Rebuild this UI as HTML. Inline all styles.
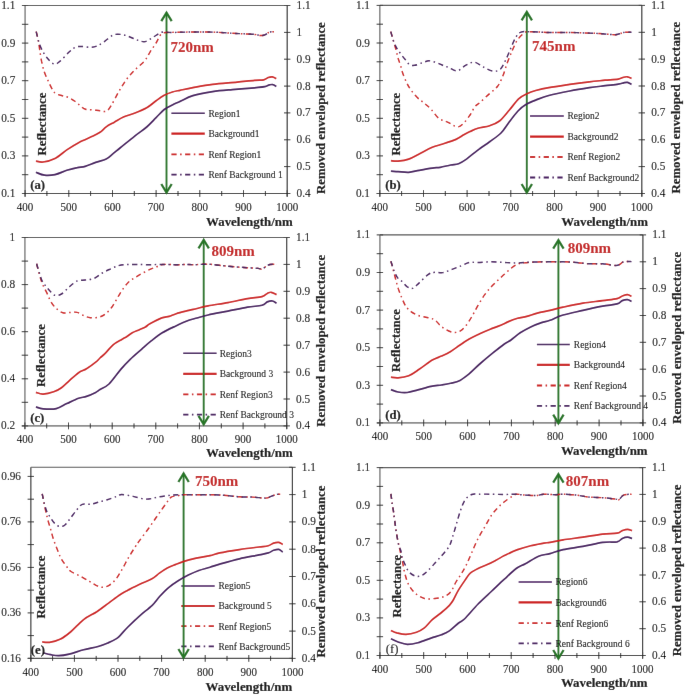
<!DOCTYPE html>
<html><head><meta charset="utf-8"><style>
body{margin:0;background:#fff;}
svg{display:block;filter:grayscale(0);}
text{font-family:"Liberation Serif",serif;fill:#111;stroke:#111;stroke-width:1px;}
.tl{font-size:113px;text-anchor:end;}
.tr{font-size:113px;}
.tx{font-size:110px;text-anchor:middle;}
.xl{font-size:129px;font-weight:bold;stroke-width:2px;text-anchor:end;}
.lg{font-size:95px;}
.nm{font-size:150px;font-weight:bold;fill:#c42424;stroke:#c42424;stroke-width:1px;}
.lab{font-size:127px;font-weight:bold;stroke-width:2px;}
.labr{font-size:127px;}
.refl{font-size:127px;font-weight:bold;stroke-width:2px;}
.refl2{font-size:128px;font-weight:bold;stroke-width:2px;}
</style></head>
<body><svg width="685" height="696" viewBox="0 0 685 696">
<defs><filter id="bl" filterUnits="userSpaceOnUse" x="-4" y="-4" width="693" height="704"><feConvolveMatrix order="3" kernelMatrix="0 1 0 1 20 1 0 1 0" edgeMode="duplicate" preserveAlpha="true"/></filter></defs>
<rect x="-10" y="-10" width="705" height="716" fill="#fff"/><g filter="url(#bl)"><rect x="-10" y="-10" width="705" height="716" fill="#fff"/>
<g id="pa">
<path d="M25.1,5.5H287.2" stroke="#555" stroke-width="1.1" fill="none"/>
<path d="M25.1,5.5V196.5" stroke="#8c8c8c" stroke-width="1.6" fill="none"/>
<path d="M22.1,193.5H287.2" stroke="#333" stroke-width="1.2" fill="none"/>
<path d="M287.2,5.5V196.5" stroke="#333" stroke-width="1.2" fill="none"/>
<path d="M21.9,193.5h6.4M21.9,174.7h6.4M21.9,155.9h6.4M21.9,137.1h6.4M21.9,118.3h6.4M21.9,99.5h6.4M21.9,80.7h6.4M21.9,61.9h6.4M21.9,43.1h6.4M21.9,24.3h6.4M21.9,5.5h6.4" stroke="#333" stroke-width="1" fill="none"/>
<text transform="translate(15.3,197.0) scale(0.1,0.113)" class="tl">0.1</text>
<text transform="translate(15.3,159.4) scale(0.1,0.113)" class="tl">0.3</text>
<text transform="translate(15.3,121.8) scale(0.1,0.113)" class="tl">0.5</text>
<text transform="translate(15.3,84.2) scale(0.1,0.113)" class="tl">0.7</text>
<text transform="translate(15.3,46.6) scale(0.1,0.113)" class="tl">0.9</text>
<text transform="translate(15.3,9.0) scale(0.1,0.113)" class="tl">1.1</text>
<text transform="translate(296.6,197.0) scale(0.1,0.113)" class="tr">0.4</text>
<text transform="translate(296.6,170.1) scale(0.1,0.113)" class="tr">0.5</text>
<text transform="translate(296.6,143.3) scale(0.1,0.113)" class="tr">0.6</text>
<text transform="translate(296.6,116.4) scale(0.1,0.113)" class="tr">0.7</text>
<text transform="translate(296.6,89.6) scale(0.1,0.113)" class="tr">0.8</text>
<text transform="translate(296.6,62.7) scale(0.1,0.113)" class="tr">0.9</text>
<text transform="translate(296.6,35.9) scale(0.1,0.113)" class="tr">1</text>
<text transform="translate(296.6,9.0) scale(0.1,0.113)" class="tr">1.1</text>
<path d="M284.0,193.5h6.4M284.0,166.6h6.4M284.0,139.8h6.4M284.0,112.9h6.4M284.0,86.1h6.4M284.0,59.2h6.4M284.0,32.4h6.4M284.0,5.5h6.4" stroke="#333" stroke-width="1" fill="none"/>
<path d="M25.1,190.1v6.8M46.9,191.0v5M68.8,190.1v6.8M90.6,191.0v5M112.5,190.1v6.8M134.3,191.0v5M156.1,190.1v6.8M178.0,191.0v5M199.8,190.1v6.8M221.7,191.0v5M243.5,190.1v6.8M265.4,191.0v5M287.2,190.1v6.8" stroke="#333" stroke-width="1" fill="none"/>
<text transform="translate(25.1,210.8) scale(0.1,0.113)" class="tx">400</text>
<text transform="translate(68.8,210.8) scale(0.1,0.113)" class="tx">500</text>
<text transform="translate(112.5,210.8) scale(0.1,0.113)" class="tx">600</text>
<text transform="translate(156.1,210.8) scale(0.1,0.113)" class="tx">700</text>
<text transform="translate(199.8,210.8) scale(0.1,0.113)" class="tx">800</text>
<text transform="translate(243.5,210.8) scale(0.1,0.113)" class="tx">900</text>
<text transform="translate(287.2,210.8) scale(0.1,0.113)" class="tx">1000</text>
<text transform="translate(292.7,225.5) scale(0.1,0.1)" class="xl">Wavelength/nm</text>
<path d="M171.4,113.2H204.8" stroke="#44145e" stroke-width="1.5"/>
<path d="M171.4,133.7H204.8" stroke="#cc1a1a" stroke-width="2.2"/>
<path d="M171.4,154.3H204.8" stroke="#cc1a1a" stroke-width="1.8" stroke-dasharray="5.2,3.5,1.5,3.5"/>
<path d="M171.4,174.7H204.8" stroke="#44145e" stroke-width="1.8" stroke-dasharray="5.2,3.5,1.5,3.5"/>
<path d="M166.5,12.7V192.5" stroke="#287628" stroke-width="1.9"/>
<path d="M161.3,21.2L166.5,12.7L171.7,21.2" stroke="#287628" stroke-width="2.3" fill="none"/>
<path d="M161.3,184.0L166.5,192.5L171.7,184.0" stroke="#287628" stroke-width="2.3" fill="none"/>
<path d="M36.2,31.6 C36.6,33.1 37.8,37.7 38.4,40.7 C39.0,43.7 39.2,46.3 39.7,49.8 C40.2,53.2 40.9,57.8 41.6,61.4 C42.4,65.0 43.1,68.5 44.2,71.7 C45.3,74.9 46.7,77.8 48.1,80.8 C49.5,83.8 51.3,87.8 52.6,89.9 C53.9,92.1 54.3,92.7 55.9,93.7 C57.5,94.7 60.1,95.1 62.3,95.7 C64.5,96.3 66.6,96.6 68.8,97.6 C71.0,98.6 73.3,100.1 75.3,101.5 C77.2,102.9 78.8,104.7 80.5,106.0 C82.2,107.3 83.6,108.7 85.6,109.3 C87.5,109.9 89.8,109.5 92.2,109.8 C94.6,110.0 97.7,110.6 100.1,110.8 C102.5,111.0 104.6,112.2 106.5,111.2 C108.4,110.2 109.6,108.0 111.6,104.8 C113.6,101.6 116.3,95.9 118.7,91.8 C121.1,87.7 123.3,83.9 125.9,80.3 C128.5,76.7 131.4,73.5 134.5,70.3 C137.6,67.1 142.0,64.0 144.6,60.9 C147.2,57.8 148.4,54.6 150.3,51.6 C152.2,48.6 154.2,46.0 156.1,43.0 C158.0,40.0 159.4,35.4 161.8,33.6 C164.2,31.9 166.4,32.8 170.5,32.5 C174.6,32.2 179.3,32.2 186.3,32.1 C193.3,32.0 205.1,31.9 212.6,32.1 C220.1,32.3 226.4,32.9 231.5,33.2 C236.6,33.5 239.2,33.6 243.0,33.8 C246.8,34.0 251.6,34.1 254.5,34.4 C257.4,34.7 258.5,35.4 260.2,35.5 C261.9,35.6 263.3,35.5 264.8,34.9 C266.3,34.3 267.9,32.6 269.4,32.1 C270.9,31.6 273.2,31.9 274.0,31.8" stroke="#cc1a1a" stroke-width="1.45" fill="none" stroke-dasharray="5.2,3.5,1.5,3.5"/>
<path d="M36.2,31.6 C36.6,33.1 37.5,37.8 38.4,40.7 C39.3,43.6 40.2,46.3 41.6,49.1 C43.0,51.9 44.8,55.0 46.8,57.5 C48.8,60.0 51.7,63.4 53.9,64.0 C56.1,64.7 57.3,63.4 59.8,61.4 C62.3,59.4 66.2,54.7 68.8,52.3 C71.4,49.9 73.1,48.2 75.3,47.2 C77.5,46.2 79.1,46.5 81.7,46.5 C84.3,46.5 88.2,47.5 90.8,47.4 C93.4,47.3 95.0,46.9 97.3,45.9 C99.6,44.9 101.8,43.4 104.4,41.6 C107.0,39.8 110.2,36.3 113.0,35.1 C115.8,33.9 118.3,34.2 120.9,34.4 C123.5,34.6 126.1,35.5 128.8,36.5 C131.6,37.5 134.7,39.2 137.4,40.1 C140.2,41.0 142.7,42.1 145.3,41.6 C147.9,41.1 150.4,38.8 153.2,37.2 C155.9,35.6 158.9,33.0 161.8,32.2 C164.7,31.4 166.4,32.5 170.5,32.5 C174.6,32.5 179.3,32.2 186.3,32.1 C193.3,32.0 205.1,31.9 212.6,32.1 C220.1,32.3 226.4,32.9 231.5,33.2 C236.6,33.5 239.2,33.6 243.0,33.8 C246.8,34.0 251.6,34.1 254.5,34.4 C257.4,34.7 258.5,35.4 260.2,35.5 C261.9,35.6 263.3,35.5 264.8,34.9 C266.3,34.3 267.9,32.6 269.4,32.1 C270.9,31.6 273.2,31.9 274.0,31.8" stroke="#44145e" stroke-width="1.45" fill="none" stroke-dasharray="5.2,3.5,1.5,3.5"/>
<path d="M35.9,161.1 C37.1,161.2 39.9,162.4 43.1,162.0 C46.3,161.6 51.0,160.5 55.0,158.5 C59.0,156.5 62.9,152.5 66.8,149.9 C70.7,147.3 74.2,145.0 78.6,142.7 C83.0,140.4 89.5,137.8 93.1,136.1 C96.7,134.4 97.8,133.8 100.0,132.3 C102.2,130.8 103.9,128.6 106.2,126.9 C108.5,125.2 111.1,124.0 114.0,122.4 C116.9,120.8 119.9,118.7 123.4,117.1 C126.9,115.5 131.1,114.5 135.0,113.0 C138.9,111.5 143.2,109.8 146.7,107.8 C150.2,105.8 153.2,102.9 156.1,100.8 C159.0,98.7 161.5,96.8 164.2,95.3 C166.9,93.8 169.8,92.8 172.4,92.0 C175.0,91.2 176.6,91.0 180.0,90.3 C183.4,89.6 187.5,88.7 192.9,87.7 C198.3,86.7 205.2,85.3 212.6,84.4 C220.0,83.5 230.2,82.8 237.2,82.1 C244.2,81.4 250.1,80.7 254.5,80.3 C258.9,79.9 261.4,80.3 263.7,79.8 C266.0,79.3 266.9,78.0 268.3,77.5 C269.7,77.0 271.0,76.7 272.3,76.9 C273.6,77.1 275.6,78.3 276.3,78.6" stroke="#cc1a1a" stroke-width="1.7" fill="none" stroke-linejoin="round"/>
<path d="M35.9,172.3 C37.3,172.8 41.3,174.8 44.5,175.2 C47.7,175.6 51.3,175.4 55.0,174.6 C58.7,173.8 63.1,171.5 66.8,170.3 C70.5,169.2 74.2,168.3 77.3,167.7 C80.4,167.0 82.1,167.3 85.2,166.4 C88.3,165.5 92.2,163.6 95.7,162.4 C99.2,161.2 103.4,160.5 106.2,159.1 C109.0,157.7 110.5,155.8 112.8,153.9 C115.1,152.1 116.3,151.0 120.0,148.0 C123.7,145.0 130.6,139.3 135.0,135.8 C139.4,132.3 143.2,130.0 146.7,127.0 C150.2,124.0 153.2,120.6 156.1,117.7 C159.0,114.8 161.5,111.6 164.2,109.5 C166.9,107.4 169.8,106.2 172.4,104.9 C175.0,103.6 176.6,103.0 180.0,101.4 C183.4,99.9 187.5,97.2 192.9,95.6 C198.3,94.0 206.0,92.6 212.6,91.6 C219.2,90.6 225.3,90.2 232.3,89.6 C239.3,89.0 249.1,88.3 254.5,87.8 C259.9,87.3 262.3,87.2 264.8,86.7 C267.3,86.2 268.0,85.2 269.4,84.9 C270.8,84.6 271.8,84.3 272.9,84.6 C274.0,84.8 275.7,86.1 276.3,86.4" stroke="#44145e" stroke-width="1.7" fill="none" stroke-linejoin="round"/>
<text transform="translate(208.4,116.6) scale(0.1,0.11)" class="lg">Region1</text>
<text transform="translate(208.4,137.1) scale(0.1,0.11)" class="lg">Background1</text>
<text transform="translate(208.4,157.7) scale(0.1,0.11)" class="lg">Renf Region1</text>
<text transform="translate(208.4,178.1) scale(0.1,0.11)" class="lg">Renf Background 1</text>
<text transform="translate(170.4,51.8) scale(0.1,0.1)" class="nm">720nm</text>
<text transform="translate(30.2,189.2) scale(0.1,0.1)" class="lab">(a)</text>
<text transform="translate(45.5,155.4) rotate(-90) scale(0.1,0.1)" class="refl">Reflectance</text>
<text transform="translate(325.1,194.0) rotate(-90) scale(0.1,0.1)" class="refl2">Removed enveloped reflectance</text>
</g>
<g id="pb">
<path d="M379.8,5.4H641.8" stroke="#555" stroke-width="1.1" fill="none"/>
<path d="M379.8,5.4V196.5" stroke="#8c8c8c" stroke-width="1.6" fill="none"/>
<path d="M376.8,193.5H641.8" stroke="#333" stroke-width="1.2" fill="none"/>
<path d="M641.8,5.4V196.5" stroke="#333" stroke-width="1.2" fill="none"/>
<path d="M376.6,193.5h6.4M376.6,174.7h6.4M376.6,155.9h6.4M376.6,137.1h6.4M376.6,118.3h6.4M376.6,99.5h6.4M376.6,80.6h6.4M376.6,61.8h6.4M376.6,43.0h6.4M376.6,24.2h6.4M376.6,5.4h6.4" stroke="#333" stroke-width="1" fill="none"/>
<text transform="translate(370.0,197.0) scale(0.1,0.113)" class="tl">0.1</text>
<text transform="translate(370.0,159.4) scale(0.1,0.113)" class="tl">0.3</text>
<text transform="translate(370.0,121.8) scale(0.1,0.113)" class="tl">0.5</text>
<text transform="translate(370.0,84.1) scale(0.1,0.113)" class="tl">0.7</text>
<text transform="translate(370.0,46.5) scale(0.1,0.113)" class="tl">0.9</text>
<text transform="translate(370.0,8.9) scale(0.1,0.113)" class="tl">1.1</text>
<text transform="translate(651.2,197.0) scale(0.1,0.113)" class="tr">0.4</text>
<text transform="translate(651.2,170.1) scale(0.1,0.113)" class="tr">0.5</text>
<text transform="translate(651.2,143.3) scale(0.1,0.113)" class="tr">0.6</text>
<text transform="translate(651.2,116.4) scale(0.1,0.113)" class="tr">0.7</text>
<text transform="translate(651.2,89.5) scale(0.1,0.113)" class="tr">0.8</text>
<text transform="translate(651.2,62.6) scale(0.1,0.113)" class="tr">0.9</text>
<text transform="translate(651.2,35.8) scale(0.1,0.113)" class="tr">1</text>
<text transform="translate(651.2,8.9) scale(0.1,0.113)" class="tr">1.1</text>
<path d="M638.6,193.5h6.4M638.6,166.6h6.4M638.6,139.8h6.4M638.6,112.9h6.4M638.6,86.0h6.4M638.6,59.1h6.4M638.6,32.3h6.4M638.6,5.4h6.4" stroke="#333" stroke-width="1" fill="none"/>
<path d="M379.8,190.1v6.8M401.6,191.0v5M423.5,190.1v6.8M445.3,191.0v5M467.1,190.1v6.8M489.0,191.0v5M510.8,190.1v6.8M532.6,191.0v5M554.5,190.1v6.8M576.3,191.0v5M598.1,190.1v6.8M620.0,191.0v5M641.8,190.1v6.8" stroke="#333" stroke-width="1" fill="none"/>
<text transform="translate(379.8,210.8) scale(0.1,0.113)" class="tx">400</text>
<text transform="translate(423.5,210.8) scale(0.1,0.113)" class="tx">500</text>
<text transform="translate(467.1,210.8) scale(0.1,0.113)" class="tx">600</text>
<text transform="translate(510.8,210.8) scale(0.1,0.113)" class="tx">700</text>
<text transform="translate(554.5,210.8) scale(0.1,0.113)" class="tx">800</text>
<text transform="translate(598.1,210.8) scale(0.1,0.113)" class="tx">900</text>
<text transform="translate(641.8,210.8) scale(0.1,0.113)" class="tx">1000</text>
<text transform="translate(648.0,225.5) scale(0.1,0.1)" class="xl">Wavelength/nm</text>
<path d="M530.0,116.0H563.8" stroke="#44145e" stroke-width="1.5"/>
<path d="M530.0,136.6H563.8" stroke="#cc1a1a" stroke-width="2.2"/>
<path d="M530.0,157.0H563.8" stroke="#cc1a1a" stroke-width="1.8" stroke-dasharray="5.2,3.5,1.5,3.5"/>
<path d="M530.0,177.5H563.8" stroke="#44145e" stroke-width="1.8" stroke-dasharray="5.2,3.5,1.5,3.5"/>
<path d="M526.8,11.9V192.5" stroke="#287628" stroke-width="1.9"/>
<path d="M521.6,20.4L526.8,11.9L532.0,20.4" stroke="#287628" stroke-width="2.3" fill="none"/>
<path d="M521.6,184.0L526.8,192.5L532.0,184.0" stroke="#287628" stroke-width="2.3" fill="none"/>
<path d="M390.8,31.6 C391.2,33.1 392.5,37.7 393.4,40.7 C394.3,43.7 395.2,47.0 396.0,49.8 C396.8,52.6 397.1,54.9 397.9,57.5 C398.6,60.1 399.6,62.5 400.5,65.3 C401.4,68.1 402.0,71.3 403.1,74.3 C404.2,77.3 405.7,80.8 407.0,83.4 C408.3,86.0 409.2,87.5 410.9,89.9 C412.6,92.3 415.1,95.4 417.3,97.6 C419.5,99.8 421.5,100.9 423.8,102.8 C426.1,104.7 428.5,106.6 431.0,109.2 C433.5,111.8 436.0,116.2 438.9,118.4 C441.8,120.6 445.0,120.9 448.1,122.3 C451.2,123.7 454.7,126.8 457.3,126.9 C459.9,127.0 461.6,125.1 463.8,123.0 C466.0,120.9 468.5,117.2 470.4,114.5 C472.3,111.8 473.3,108.7 475.0,106.6 C476.7,104.5 478.1,104.2 480.5,102.0 C482.9,99.8 486.8,96.1 489.7,93.5 C492.6,90.9 495.4,89.2 497.6,86.3 C499.8,83.3 501.3,79.7 502.9,75.8 C504.5,71.9 505.6,67.4 507.2,63.1 C508.8,58.8 510.7,54.1 512.4,50.2 C514.1,46.3 515.6,42.7 517.6,39.8 C519.6,36.9 522.4,34.2 524.5,32.9 C526.6,31.5 525.8,31.8 530.0,31.7 C534.2,31.6 543.4,32.4 550.0,32.5 C556.6,32.6 563.1,32.4 569.7,32.5 C576.3,32.6 583.9,32.9 589.4,33.1 C594.9,33.3 598.4,33.5 602.6,33.8 C606.8,34.1 611.6,34.7 614.4,34.7 C617.2,34.7 618.1,34.2 619.6,33.8 C621.1,33.4 621.6,32.8 623.6,32.5 C625.6,32.2 630.2,32.2 631.5,32.2" stroke="#cc1a1a" stroke-width="1.45" fill="none" stroke-dasharray="5.2,3.5,1.5,3.5"/>
<path d="M390.8,31.6 C391.2,33.1 392.4,38.0 393.4,40.7 C394.4,43.4 395.4,45.6 396.6,47.8 C397.8,49.9 399.0,51.5 400.5,53.6 C402.0,55.7 404.2,58.3 405.7,60.1 C407.2,61.9 408.1,63.7 409.6,64.6 C411.1,65.5 412.7,65.6 414.8,65.3 C416.9,65.0 420.1,63.5 422.5,62.7 C424.9,62.0 426.6,60.8 429.0,60.8 C431.4,60.8 434.3,61.9 436.7,62.7 C439.1,63.5 441.2,64.7 443.2,65.5 C445.2,66.3 446.3,66.5 448.6,67.4 C450.9,68.3 454.3,71.3 457.2,70.9 C460.1,70.5 463.0,66.7 465.9,65.2 C468.8,63.8 471.6,61.9 474.5,62.2 C477.4,62.5 480.1,65.4 483.1,66.9 C486.1,68.4 489.7,70.6 492.5,71.0 C495.3,71.4 497.8,71.2 500.0,69.5 C502.2,67.8 503.7,64.0 505.5,60.5 C507.3,57.0 509.0,52.3 510.7,48.4 C512.4,44.5 514.2,39.9 515.9,37.2 C517.6,34.5 518.6,33.0 521.0,32.1 C523.4,31.2 525.2,31.6 530.0,31.7 C534.8,31.8 543.4,32.4 550.0,32.5 C556.6,32.6 563.1,32.4 569.7,32.5 C576.3,32.6 583.9,32.9 589.4,33.1 C594.9,33.3 598.4,33.5 602.6,33.8 C606.8,34.1 611.6,34.7 614.4,34.7 C617.2,34.7 618.1,34.2 619.6,33.8 C621.1,33.4 621.6,32.8 623.6,32.5 C625.6,32.2 630.2,32.2 631.5,32.2" stroke="#44145e" stroke-width="1.45" fill="none" stroke-dasharray="5.2,3.5,1.5,3.5"/>
<path d="M390.9,160.7 C392.1,160.8 395.1,161.4 398.1,161.1 C401.1,160.8 405.2,160.3 408.7,159.1 C412.2,157.9 415.3,155.9 419.2,153.9 C423.1,151.9 428.4,149.0 432.3,147.3 C436.2,145.7 438.9,145.3 442.8,144.0 C446.8,142.7 452.5,140.9 456.0,139.4 C459.5,137.9 461.5,136.1 463.8,134.8 C466.1,133.5 467.6,132.7 470.0,131.6 C472.4,130.5 474.6,129.3 477.9,128.3 C481.2,127.3 486.1,126.9 489.7,125.7 C493.3,124.5 496.2,123.6 499.5,121.0 C502.8,118.4 506.2,113.7 509.4,110.0 C512.6,106.3 515.8,101.5 518.6,98.8 C521.5,96.1 523.6,95.3 526.5,93.9 C529.4,92.5 532.0,91.5 535.7,90.5 C539.4,89.5 543.1,88.6 548.8,87.6 C554.5,86.6 562.9,85.4 569.7,84.4 C576.5,83.4 583.5,82.5 589.4,81.8 C595.3,81.1 600.4,80.7 605.2,80.2 C610.0,79.8 615.2,79.6 618.3,79.1 C621.4,78.6 622.1,77.6 623.6,77.2 C625.1,76.8 626.2,76.6 627.5,76.8 C628.8,77.0 630.8,78.2 631.5,78.5" stroke="#cc1a1a" stroke-width="1.7" fill="none" stroke-linejoin="round"/>
<path d="M390.9,171.2 C392.1,171.3 395.1,171.4 398.1,171.6 C401.1,171.8 405.2,172.5 408.7,172.3 C412.2,172.1 415.3,171.0 419.2,170.3 C423.1,169.6 428.8,168.6 432.3,168.1 C435.8,167.6 437.1,167.8 440.2,167.3 C443.3,166.8 447.6,165.6 450.7,165.0 C453.8,164.4 456.0,164.7 458.6,163.7 C461.2,162.7 463.8,161.0 466.5,159.1 C469.2,157.2 472.8,154.1 475.0,152.3 C477.2,150.5 477.5,150.3 480.0,148.5 C482.5,146.7 486.5,144.1 490.0,141.5 C493.5,138.9 497.8,136.2 501.0,133.0 C504.2,129.8 506.4,125.7 509.2,122.0 C512.0,118.3 515.3,113.9 518.0,111.0 C520.7,108.1 522.5,106.5 525.5,104.7 C528.5,102.9 531.8,101.6 535.7,100.1 C539.6,98.6 543.1,97.0 548.8,95.5 C554.5,94.0 562.9,92.3 569.7,91.0 C576.5,89.7 583.5,88.6 589.4,87.7 C595.3,86.8 600.4,86.3 605.2,85.7 C610.0,85.1 615.2,84.6 618.3,84.1 C621.4,83.6 622.1,83.1 623.6,82.8 C625.1,82.5 626.2,82.1 627.5,82.4 C628.8,82.7 630.8,84.1 631.5,84.4" stroke="#44145e" stroke-width="1.7" fill="none" stroke-linejoin="round"/>
<text transform="translate(567.4,119.4) scale(0.1,0.11)" class="lg">Region2</text>
<text transform="translate(567.4,140.0) scale(0.1,0.11)" class="lg">Background2</text>
<text transform="translate(567.4,160.4) scale(0.1,0.11)" class="lg">Renf Region2</text>
<text transform="translate(567.4,180.9) scale(0.1,0.11)" class="lg">Renf Background2</text>
<text transform="translate(532.1,51.1) scale(0.1,0.1)" class="nm">745nm</text>
<text transform="translate(385.2,189.0) scale(0.1,0.1)" class="lab">(b)</text>
<text transform="translate(399.8,155.5) rotate(-90) scale(0.1,0.1)" class="refl">Reflectance</text>
<text transform="translate(680.4,193.5) rotate(-90) scale(0.1,0.1)" class="refl2">Removed enveloped reflectance</text>
</g>
<g id="pc">
<path d="M24.9,237.5H286.7" stroke="#555" stroke-width="1.1" fill="none"/>
<path d="M24.9,237.5V428.9" stroke="#8c8c8c" stroke-width="1.6" fill="none"/>
<path d="M21.9,425.9H286.7" stroke="#8c8c8c" stroke-width="1.8" fill="none"/>
<path d="M286.7,237.5V428.9" stroke="#333" stroke-width="1.2" fill="none"/>
<path d="M21.7,425.9h6.4M21.7,402.3h6.4M21.7,378.8h6.4M21.7,355.2h6.4M21.7,331.7h6.4M21.7,308.1h6.4M21.7,284.6h6.4M21.7,261.1h6.4M21.7,237.5h6.4" stroke="#333" stroke-width="1" fill="none"/>
<text transform="translate(15.1,429.4) scale(0.1,0.113)" class="tl">0.2</text>
<text transform="translate(15.1,382.3) scale(0.1,0.113)" class="tl">0.4</text>
<text transform="translate(15.1,335.2) scale(0.1,0.113)" class="tl">0.6</text>
<text transform="translate(15.1,288.1) scale(0.1,0.113)" class="tl">0.8</text>
<text transform="translate(15.1,241.0) scale(0.1,0.113)" class="tl">1</text>
<text transform="translate(296.1,429.4) scale(0.1,0.113)" class="tr">0.4</text>
<text transform="translate(296.1,402.5) scale(0.1,0.113)" class="tr">0.5</text>
<text transform="translate(296.1,375.6) scale(0.1,0.113)" class="tr">0.6</text>
<text transform="translate(296.1,348.7) scale(0.1,0.113)" class="tr">0.7</text>
<text transform="translate(296.1,321.7) scale(0.1,0.113)" class="tr">0.8</text>
<text transform="translate(296.1,294.8) scale(0.1,0.113)" class="tr">0.9</text>
<text transform="translate(296.1,267.9) scale(0.1,0.113)" class="tr">1</text>
<text transform="translate(296.1,241.0) scale(0.1,0.113)" class="tr">1.1</text>
<path d="M283.5,425.9h6.4M283.5,399.0h6.4M283.5,372.1h6.4M283.5,345.2h6.4M283.5,318.2h6.4M283.5,291.3h6.4M283.5,264.4h6.4M283.5,237.5h6.4" stroke="#333" stroke-width="1" fill="none"/>
<path d="M24.9,422.5v6.8M46.7,423.4v5M68.5,422.5v6.8M90.3,423.4v5M112.2,422.5v6.8M134.0,423.4v5M155.8,422.5v6.8M177.6,423.4v5M199.4,422.5v6.8M221.3,423.4v5M243.1,422.5v6.8M264.9,423.4v5M286.7,422.5v6.8" stroke="#333" stroke-width="1" fill="none"/>
<text transform="translate(24.9,443.2) scale(0.1,0.113)" class="tx">400</text>
<text transform="translate(68.5,443.2) scale(0.1,0.113)" class="tx">500</text>
<text transform="translate(112.2,443.2) scale(0.1,0.113)" class="tx">600</text>
<text transform="translate(155.8,443.2) scale(0.1,0.113)" class="tx">700</text>
<text transform="translate(199.4,443.2) scale(0.1,0.113)" class="tx">800</text>
<text transform="translate(243.1,443.2) scale(0.1,0.113)" class="tx">900</text>
<text transform="translate(286.7,443.2) scale(0.1,0.113)" class="tx">1000</text>
<text transform="translate(292.7,457.4) scale(0.1,0.1)" class="xl">Wavelength/nm</text>
<path d="M183.2,353.2H216.6" stroke="#44145e" stroke-width="1.5"/>
<path d="M183.2,373.9H216.6" stroke="#cc1a1a" stroke-width="2.2"/>
<path d="M183.2,394.3H216.6" stroke="#cc1a1a" stroke-width="1.8" stroke-dasharray="5.2,3.5,1.5,3.5"/>
<path d="M183.2,414.7H216.6" stroke="#44145e" stroke-width="1.8" stroke-dasharray="5.2,3.5,1.5,3.5"/>
<path d="M203.7,239.9V424.3" stroke="#287628" stroke-width="1.9"/>
<path d="M198.5,248.4L203.7,239.9L208.9,248.4" stroke="#287628" stroke-width="2.3" fill="none"/>
<path d="M198.5,415.8L203.7,424.3L208.9,415.8" stroke="#287628" stroke-width="2.3" fill="none"/>
<path d="M36.6,263.8 C37.2,266.2 39.4,274.7 40.5,278.3 C41.6,281.9 42.0,283.0 43.1,285.5 C44.2,288.0 45.8,290.7 47.1,293.4 C48.4,296.1 49.5,299.4 51.0,301.9 C52.5,304.4 54.3,306.7 56.3,308.5 C58.3,310.3 60.5,312.2 62.9,312.8 C65.3,313.4 68.3,312.5 70.7,312.4 C73.1,312.3 75.1,311.8 77.3,312.4 C79.5,312.9 81.7,314.8 83.9,315.7 C86.1,316.6 88.0,317.4 90.4,317.7 C92.8,318.0 95.9,317.9 98.3,317.3 C100.7,316.8 102.7,316.0 104.9,314.4 C107.1,312.8 109.5,310.3 111.4,307.8 C113.4,305.3 114.9,302.2 116.6,299.3 C118.3,296.4 119.8,293.6 121.8,290.7 C123.8,287.8 126.2,284.4 128.4,282.2 C130.6,280.0 132.8,279.0 135.0,277.6 C137.2,276.2 139.1,275.0 141.5,273.7 C143.9,272.4 147.0,270.8 149.4,269.7 C151.8,268.6 153.8,268.0 156.0,267.1 C158.2,266.2 159.3,264.9 162.6,264.5 C165.9,264.1 171.3,264.7 175.7,264.7 C180.1,264.7 185.6,264.5 188.8,264.5 C192.0,264.5 191.8,264.8 195.0,264.7 C198.2,264.6 203.7,264.1 208.1,264.2 C212.5,264.3 216.9,265.1 221.3,265.5 C225.7,265.9 230.0,266.4 234.4,266.8 C238.8,267.2 243.6,267.4 247.6,267.7 C251.6,268.0 255.7,268.2 258.1,268.4 C260.5,268.6 260.7,269.4 262.0,269.1 C263.3,268.8 264.7,267.2 266.0,266.4 C267.3,265.6 268.1,264.9 269.9,264.5 C271.6,264.1 275.4,264.2 276.5,264.2" stroke="#cc1a1a" stroke-width="1.45" fill="none" stroke-dasharray="5.2,3.5,1.5,3.5"/>
<path d="M36.6,263.8 C37.0,265.2 38.3,269.6 39.2,272.3 C40.1,275.0 40.7,277.9 41.8,280.2 C42.9,282.5 44.4,284.2 45.8,286.1 C47.2,288.0 48.9,289.9 50.4,291.4 C51.9,292.9 53.1,294.9 55.0,295.3 C56.9,295.7 59.1,295.4 61.5,294.0 C63.9,292.6 66.8,289.0 69.4,286.8 C72.0,284.6 74.7,282.0 77.3,280.9 C79.9,279.8 82.3,280.4 85.2,280.0 C88.1,279.6 91.6,279.5 94.4,278.3 C97.2,277.1 99.7,274.5 102.3,273.0 C104.9,271.5 107.6,270.3 110.2,269.1 C112.8,267.9 115.3,266.6 117.9,265.8 C120.5,265.0 122.7,264.7 125.8,264.5 C128.9,264.3 132.4,264.5 136.3,264.5 C140.2,264.5 145.0,264.7 149.4,264.7 C153.8,264.7 158.2,264.5 162.6,264.5 C167.0,264.5 171.3,264.7 175.7,264.7 C180.1,264.7 185.6,264.5 188.8,264.5 C192.0,264.5 191.8,264.8 195.0,264.7 C198.2,264.6 203.7,264.1 208.1,264.2 C212.5,264.3 216.9,265.1 221.3,265.5 C225.7,265.9 230.0,266.4 234.4,266.8 C238.8,267.2 243.6,267.4 247.6,267.7 C251.6,268.0 255.7,268.2 258.1,268.4 C260.5,268.6 260.7,269.4 262.0,269.1 C263.3,268.8 264.7,267.2 266.0,266.4 C267.3,265.6 268.1,264.9 269.9,264.5 C271.6,264.1 275.4,264.2 276.5,264.2" stroke="#44145e" stroke-width="1.45" fill="none" stroke-dasharray="5.2,3.5,1.5,3.5"/>
<path d="M35.9,392.4 C37.1,392.7 40.1,394.2 43.1,394.1 C46.1,394.0 50.6,392.9 53.7,391.8 C56.8,390.8 58.9,389.7 61.5,387.8 C64.1,385.9 66.6,383.1 69.4,380.6 C72.2,378.1 75.8,374.7 78.6,372.7 C81.4,370.7 83.7,370.6 86.5,368.8 C89.3,367.1 93.5,364.0 95.7,362.2 C98.0,360.4 98.5,359.4 100.0,358.0 C101.5,356.6 102.7,355.9 104.9,353.7 C107.1,351.5 110.3,347.2 113.1,344.8 C115.9,342.4 119.6,340.7 121.8,339.4 C124.0,338.1 124.5,338.0 126.3,336.9 C128.1,335.8 130.1,334.0 132.3,332.8 C134.5,331.6 137.2,330.7 139.4,329.7 C141.6,328.7 143.8,327.9 145.5,326.9 C147.2,325.9 147.2,325.3 149.9,323.8 C152.6,322.3 158.6,319.1 161.8,317.9 C165.0,316.7 166.7,317.1 169.1,316.4 C171.5,315.7 172.9,314.7 176.2,313.7 C179.5,312.7 185.3,311.3 188.8,310.4 C192.3,309.5 193.8,309.3 197.0,308.5 C200.2,307.7 202.9,306.8 208.1,305.8 C213.2,304.8 221.3,303.8 227.9,302.6 C234.5,301.4 241.9,299.6 247.6,298.6 C253.3,297.6 258.7,297.5 262.0,296.6 C265.3,295.7 265.8,294.1 267.3,293.4 C268.8,292.7 269.7,292.1 271.2,292.3 C272.7,292.5 275.6,294.3 276.5,294.7" stroke="#cc1a1a" stroke-width="1.7" fill="none" stroke-linejoin="round"/>
<path d="M35.9,406.9 C37.1,407.2 39.7,408.5 43.1,408.8 C46.5,409.1 52.3,409.5 56.3,408.6 C60.2,407.7 63.1,405.3 66.8,403.6 C70.5,401.9 75.3,399.5 78.6,398.3 C81.9,397.1 83.7,397.4 86.5,396.4 C89.3,395.4 93.5,393.5 95.7,392.4 C98.0,391.2 97.8,390.9 100.0,389.5 C102.2,388.1 105.5,387.4 109.0,384.0 C112.5,380.6 117.5,373.2 121.0,369.1 C124.5,365.0 126.7,362.7 130.2,359.3 C133.7,355.9 138.5,351.9 142.0,348.8 C145.5,345.7 147.9,343.5 151.2,340.9 C154.5,338.3 157.9,335.4 161.8,333.0 C165.8,330.6 170.4,328.5 174.9,326.4 C179.4,324.3 185.1,321.7 188.8,320.3 C192.5,318.9 193.8,318.9 197.0,318.0 C200.2,317.1 202.9,316.1 208.1,315.0 C213.2,313.9 221.3,312.4 227.9,311.1 C234.5,309.8 241.9,308.2 247.6,307.2 C253.3,306.2 258.7,306.1 262.0,305.2 C265.3,304.3 265.6,302.6 267.3,301.9 C269.1,301.2 271.0,300.8 272.5,301.0 C274.0,301.2 275.8,302.8 276.5,303.2" stroke="#44145e" stroke-width="1.7" fill="none" stroke-linejoin="round"/>
<text transform="translate(219.7,356.6) scale(0.1,0.11)" class="lg">Region3</text>
<text transform="translate(219.7,377.3) scale(0.1,0.11)" class="lg">Background 3</text>
<text transform="translate(219.7,397.7) scale(0.1,0.11)" class="lg">Renf Region3</text>
<text transform="translate(219.7,418.1) scale(0.1,0.11)" class="lg">Renf Background 3</text>
<text transform="translate(211.4,255.7) scale(0.1,0.1)" class="nm">809nm</text>
<text transform="translate(30.2,421.9) scale(0.1,0.1)" class="lab">(c)</text>
<text transform="translate(45.4,386.9) rotate(-90) scale(0.1,0.1)" class="refl">Reflectance</text>
<text transform="translate(324.7,426.7) rotate(-90) scale(0.1,0.1)" class="refl2">Removed enveloped reflectance</text>
</g>
<g id="pd">
<path d="M379.9,234.9H642.9" stroke="#555" stroke-width="1.1" fill="none"/>
<path d="M379.9,234.9V425.9" stroke="#8c8c8c" stroke-width="1.6" fill="none"/>
<path d="M376.9,422.9H642.9" stroke="#8c8c8c" stroke-width="1.8" fill="none"/>
<path d="M642.9,234.9V425.9" stroke="#333" stroke-width="1.2" fill="none"/>
<path d="M376.7,422.9h6.4M376.7,404.1h6.4M376.7,385.3h6.4M376.7,366.5h6.4M376.7,347.7h6.4M376.7,328.9h6.4M376.7,310.1h6.4M376.7,291.3h6.4M376.7,272.5h6.4M376.7,253.7h6.4M376.7,234.9h6.4" stroke="#333" stroke-width="1" fill="none"/>
<text transform="translate(370.1,426.4) scale(0.1,0.113)" class="tl">0.1</text>
<text transform="translate(370.1,388.8) scale(0.1,0.113)" class="tl">0.3</text>
<text transform="translate(370.1,351.2) scale(0.1,0.113)" class="tl">0.5</text>
<text transform="translate(370.1,313.6) scale(0.1,0.113)" class="tl">0.7</text>
<text transform="translate(370.1,276.0) scale(0.1,0.113)" class="tl">0.9</text>
<text transform="translate(370.1,238.4) scale(0.1,0.113)" class="tl">1.1</text>
<text transform="translate(652.3,426.4) scale(0.1,0.113)" class="tr">0.4</text>
<text transform="translate(652.3,399.5) scale(0.1,0.113)" class="tr">0.5</text>
<text transform="translate(652.3,372.7) scale(0.1,0.113)" class="tr">0.6</text>
<text transform="translate(652.3,345.8) scale(0.1,0.113)" class="tr">0.7</text>
<text transform="translate(652.3,319.0) scale(0.1,0.113)" class="tr">0.8</text>
<text transform="translate(652.3,292.1) scale(0.1,0.113)" class="tr">0.9</text>
<text transform="translate(652.3,265.3) scale(0.1,0.113)" class="tr">1</text>
<text transform="translate(652.3,238.4) scale(0.1,0.113)" class="tr">1.1</text>
<path d="M639.7,422.9h6.4M639.7,396.0h6.4M639.7,369.2h6.4M639.7,342.3h6.4M639.7,315.5h6.4M639.7,288.6h6.4M639.7,261.8h6.4M639.7,234.9h6.4" stroke="#333" stroke-width="1" fill="none"/>
<path d="M379.9,419.5v6.8M401.8,420.4v5M423.7,419.5v6.8M445.6,420.4v5M467.6,419.5v6.8M489.5,420.4v5M511.4,419.5v6.8M533.3,420.4v5M555.2,419.5v6.8M577.1,420.4v5M599.1,419.5v6.8M621.0,420.4v5M642.9,419.5v6.8" stroke="#333" stroke-width="1" fill="none"/>
<text transform="translate(379.9,440.2) scale(0.1,0.113)" class="tx">400</text>
<text transform="translate(423.7,440.2) scale(0.1,0.113)" class="tx">500</text>
<text transform="translate(467.6,440.2) scale(0.1,0.113)" class="tx">600</text>
<text transform="translate(511.4,440.2) scale(0.1,0.113)" class="tx">700</text>
<text transform="translate(555.2,440.2) scale(0.1,0.113)" class="tx">800</text>
<text transform="translate(599.1,440.2) scale(0.1,0.113)" class="tx">900</text>
<text transform="translate(642.9,440.2) scale(0.1,0.113)" class="tx">1000</text>
<text transform="translate(647.6,455.0) scale(0.1,0.1)" class="xl">Wavelength/nm</text>
<path d="M536.9,344.4H569.8" stroke="#44145e" stroke-width="1.5"/>
<path d="M536.9,364.8H569.8" stroke="#cc1a1a" stroke-width="2.2"/>
<path d="M536.9,385.5H569.8" stroke="#cc1a1a" stroke-width="1.8" stroke-dasharray="5.2,3.5,1.5,3.5"/>
<path d="M536.9,405.9H569.8" stroke="#44145e" stroke-width="1.8" stroke-dasharray="5.2,3.5,1.5,3.5"/>
<path d="M558.4,240.2V423.2" stroke="#287628" stroke-width="1.9"/>
<path d="M553.2,248.7L558.4,240.2L563.6,248.7" stroke="#287628" stroke-width="2.3" fill="none"/>
<path d="M553.2,414.7L558.4,423.2L563.6,414.7" stroke="#287628" stroke-width="2.3" fill="none"/>
<path d="M390.9,261.2 C391.6,263.7 393.7,271.8 394.9,276.3 C396.1,280.8 396.9,284.4 398.1,288.1 C399.3,291.8 400.8,295.5 402.1,298.6 C403.4,301.7 404.5,304.3 406.0,306.5 C407.5,308.7 409.1,310.3 411.3,311.8 C413.5,313.3 416.4,314.7 419.2,315.7 C422.0,316.7 425.8,317.0 428.4,317.7 C431.0,318.4 432.7,318.5 434.9,320.0 C437.1,321.5 438.9,324.6 441.5,326.6 C444.1,328.6 447.8,330.9 450.7,331.8 C453.6,332.7 456.2,332.7 458.6,331.8 C461.0,330.9 463.0,329.1 465.2,326.6 C467.4,324.1 469.5,320.6 471.6,317.0 C473.8,313.4 475.9,308.9 478.1,305.2 C480.3,301.5 482.5,297.8 484.7,294.7 C486.9,291.6 489.1,289.2 491.3,286.8 C493.5,284.4 495.7,282.3 497.9,280.2 C500.1,278.1 502.2,276.3 504.4,274.3 C506.6,272.3 508.8,270.1 511.0,268.4 C513.2,266.7 515.4,265.1 517.6,264.2 C519.8,263.3 519.7,263.3 524.1,262.9 C528.5,262.5 537.3,262.0 543.8,261.8 C550.3,261.6 557.7,261.7 563.1,261.8 C568.5,261.9 571.9,262.2 576.3,262.5 C580.7,262.8 585.0,263.6 589.4,263.8 C593.8,264.0 598.2,263.5 602.6,263.8 C607.0,264.1 612.9,265.4 615.7,265.5 C618.5,265.6 618.3,265.1 619.6,264.5 C620.9,263.9 621.6,262.3 623.6,261.8 C625.6,261.3 630.2,261.6 631.5,261.6" stroke="#cc1a1a" stroke-width="1.45" fill="none" stroke-dasharray="5.2,3.5,1.5,3.5"/>
<path d="M390.9,261.2 C391.4,262.8 393.1,268.3 394.2,271.0 C395.3,273.7 396.2,275.9 397.5,277.6 C398.8,279.4 400.5,280.0 402.1,281.5 C403.7,283.0 405.6,285.7 407.3,286.8 C409.1,287.9 410.6,289.0 412.6,288.4 C414.6,287.8 416.6,285.2 419.2,282.9 C421.8,280.5 425.8,276.1 428.4,274.3 C431.0,272.5 432.5,272.6 434.9,272.3 C437.3,272.0 439.9,273.1 442.8,272.6 C445.7,272.1 448.9,270.5 452.0,269.4 C455.1,268.3 458.3,266.9 461.2,265.8 C464.1,264.7 466.3,263.1 469.1,262.5 C471.9,261.9 474.4,262.6 478.1,262.5 C481.8,262.4 486.9,261.8 491.3,261.8 C495.7,261.8 500.0,262.3 504.4,262.5 C508.8,262.7 513.2,263.0 517.6,262.9 C522.0,262.8 526.3,262.3 530.7,262.1 C535.1,261.9 538.4,261.9 543.8,261.8 C549.2,261.8 557.7,261.7 563.1,261.8 C568.5,261.9 571.9,262.2 576.3,262.5 C580.7,262.8 585.0,263.6 589.4,263.8 C593.8,264.0 598.2,263.5 602.6,263.8 C607.0,264.1 612.9,265.4 615.7,265.5 C618.5,265.6 618.3,265.1 619.6,264.5 C620.9,263.9 621.6,262.3 623.6,261.8 C625.6,261.3 630.2,261.6 631.5,261.6" stroke="#44145e" stroke-width="1.45" fill="none" stroke-dasharray="5.2,3.5,1.5,3.5"/>
<path d="M390.9,377.2 C392.1,377.3 395.1,378.0 398.1,377.8 C401.1,377.6 405.2,377.2 408.7,375.8 C412.2,374.4 415.3,371.9 419.2,369.3 C423.1,366.7 428.6,362.3 432.3,360.1 C436.0,357.9 438.4,357.5 441.5,356.1 C444.6,354.7 447.6,353.4 450.7,351.5 C453.8,349.6 456.9,347.1 460.0,345.0 C463.1,342.9 465.9,341.0 469.2,339.1 C472.5,337.2 476.2,335.5 479.7,333.8 C483.2,332.1 486.7,330.6 490.2,329.2 C493.7,327.8 497.7,326.6 500.7,325.3 C503.7,324.0 505.6,322.8 508.4,321.6 C511.2,320.4 514.5,319.2 517.6,318.3 C520.7,317.4 523.5,317.3 526.8,316.4 C530.1,315.5 533.4,314.1 537.3,313.1 C541.2,312.1 545.7,311.4 550.0,310.4 C554.3,309.4 557.6,308.4 563.1,307.2 C568.6,306.0 576.3,304.3 582.9,303.2 C589.5,302.1 596.9,301.4 602.6,300.6 C608.3,299.8 613.7,299.4 617.0,298.6 C620.3,297.8 620.5,296.6 622.3,296.0 C624.0,295.4 626.0,294.6 627.5,294.7 C629.0,294.8 630.8,296.0 631.5,296.3" stroke="#cc1a1a" stroke-width="1.7" fill="none" stroke-linejoin="round"/>
<path d="M390.9,389.6 C392.1,390.0 395.4,391.5 398.1,392.0 C400.8,392.5 404.0,392.9 407.3,392.5 C410.6,392.1 413.9,390.9 417.9,389.9 C421.8,388.9 427.1,387.2 431.0,386.4 C434.9,385.6 438.2,385.5 441.5,385.0 C444.8,384.5 447.6,384.1 450.7,383.3 C453.8,382.5 456.9,382.0 460.0,380.4 C463.1,378.8 465.8,376.6 469.1,373.9 C472.4,371.2 475.7,367.5 479.7,364.0 C483.7,360.5 488.7,356.3 492.9,352.9 C497.1,349.5 501.7,345.8 504.7,343.7 C507.7,341.6 508.4,341.8 511.0,340.0 C513.6,338.2 516.9,335.0 520.2,332.8 C523.5,330.6 527.2,328.6 530.7,326.9 C534.2,325.2 538.3,323.7 541.5,322.6 C544.7,321.5 546.4,321.6 550.0,320.3 C553.6,319.0 557.6,316.6 563.1,315.0 C568.6,313.4 576.3,311.9 582.9,310.4 C589.5,308.9 596.9,307.3 602.6,306.2 C608.3,305.1 613.7,304.8 617.0,303.9 C620.3,303.0 620.5,301.3 622.3,300.6 C624.0,299.9 626.0,299.6 627.5,299.7 C629.0,299.8 630.8,301.2 631.5,301.5" stroke="#44145e" stroke-width="1.7" fill="none" stroke-linejoin="round"/>
<text transform="translate(573.8,347.8) scale(0.1,0.11)" class="lg">Region4</text>
<text transform="translate(573.8,368.2) scale(0.1,0.11)" class="lg">Background4</text>
<text transform="translate(573.8,388.9) scale(0.1,0.11)" class="lg">Renf Region4</text>
<text transform="translate(573.8,409.3) scale(0.1,0.11)" class="lg">Renf Background 4</text>
<text transform="translate(567.7,252.7) scale(0.1,0.1)" class="nm">809nm</text>
<text transform="translate(385.2,418.9) scale(0.1,0.1)" class="lab">(d)</text>
<text transform="translate(399.8,371.9) rotate(-90) scale(0.1,0.1)" class="refl">Reflectance</text>
<text transform="translate(680.9,423.7) rotate(-90) scale(0.1,0.1)" class="refl2">Removed enveloped reflectance</text>
</g>
<g id="pe">
<path d="M30.8,467.3H292.4" stroke="#555" stroke-width="1.1" fill="none"/>
<path d="M30.8,467.3V661.4" stroke="#6a6a6a" stroke-width="1.6" fill="none"/>
<path d="M27.8,658.4H292.4" stroke="#444" stroke-width="1.2" fill="none"/>
<path d="M292.4,467.3V661.4" stroke="#333" stroke-width="1.2" fill="none"/>
<path d="M27.6,658.4h6.4M27.6,635.6h6.4M27.6,612.9h6.4M27.6,590.1h6.4M27.6,567.4h6.4M27.6,544.6h6.4M27.6,521.9h6.4M27.6,499.2h6.4M27.6,476.4h6.4" stroke="#333" stroke-width="1" fill="none"/>
<text transform="translate(21.0,661.9) scale(0.1,0.113)" class="tl">0.16</text>
<text transform="translate(21.0,616.4) scale(0.1,0.113)" class="tl">0.36</text>
<text transform="translate(21.0,570.9) scale(0.1,0.113)" class="tl">0.56</text>
<text transform="translate(21.0,525.4) scale(0.1,0.113)" class="tl">0.76</text>
<text transform="translate(21.0,479.9) scale(0.1,0.113)" class="tl">0.96</text>
<text transform="translate(301.8,661.9) scale(0.1,0.113)" class="tr">0.4</text>
<text transform="translate(301.8,634.6) scale(0.1,0.113)" class="tr">0.5</text>
<text transform="translate(301.8,607.3) scale(0.1,0.113)" class="tr">0.6</text>
<text transform="translate(301.8,580.0) scale(0.1,0.113)" class="tr">0.7</text>
<text transform="translate(301.8,552.7) scale(0.1,0.113)" class="tr">0.8</text>
<text transform="translate(301.8,525.4) scale(0.1,0.113)" class="tr">0.9</text>
<text transform="translate(301.8,498.1) scale(0.1,0.113)" class="tr">1</text>
<text transform="translate(301.8,470.8) scale(0.1,0.113)" class="tr">1.1</text>
<path d="M289.2,658.4h6.4M289.2,631.1h6.4M289.2,603.8h6.4M289.2,576.5h6.4M289.2,549.2h6.4M289.2,521.9h6.4M289.2,494.6h6.4M289.2,467.3h6.4" stroke="#333" stroke-width="1" fill="none"/>
<path d="M30.8,655.0v6.8M52.6,655.9v5M74.4,655.0v6.8M96.2,655.9v5M118.0,655.0v6.8M139.8,655.9v5M161.6,655.0v6.8M183.4,655.9v5M205.2,655.0v6.8M227.0,655.9v5M248.8,655.0v6.8M270.6,655.9v5M292.4,655.0v6.8" stroke="#333" stroke-width="1" fill="none"/>
<text transform="translate(30.8,675.7) scale(0.1,0.113)" class="tx">400</text>
<text transform="translate(74.4,675.7) scale(0.1,0.113)" class="tx">500</text>
<text transform="translate(118.0,675.7) scale(0.1,0.113)" class="tx">600</text>
<text transform="translate(161.6,675.7) scale(0.1,0.113)" class="tx">700</text>
<text transform="translate(205.2,675.7) scale(0.1,0.113)" class="tx">800</text>
<text transform="translate(248.8,675.7) scale(0.1,0.113)" class="tx">900</text>
<text transform="translate(292.4,675.7) scale(0.1,0.113)" class="tx">1000</text>
<text transform="translate(292.2,690.7) scale(0.1,0.1)" class="xl">Wavelength/nm</text>
<path d="M181.3,585.9H214.7" stroke="#44145e" stroke-width="1.5"/>
<path d="M181.3,606.0H214.7" stroke="#cc1a1a" stroke-width="2.2"/>
<path d="M181.3,626.2H214.7" stroke="#cc1a1a" stroke-width="1.8" stroke-dasharray="5.2,3.5,1.5,3.5"/>
<path d="M181.3,646.3H214.7" stroke="#44145e" stroke-width="1.8" stroke-dasharray="5.2,3.5,1.5,3.5"/>
<path d="M183.6,473.5V657.5" stroke="#287628" stroke-width="1.9"/>
<path d="M178.4,482.0L183.6,473.5L188.8,482.0" stroke="#287628" stroke-width="2.3" fill="none"/>
<path d="M178.4,649.0L183.6,657.5L188.8,649.0" stroke="#287628" stroke-width="2.3" fill="none"/>
<path d="M42.2,493.8 C42.8,496.5 44.5,505.7 45.5,510.2 C46.5,514.7 47.2,517.4 48.1,520.7 C49.0,524.0 49.9,526.8 50.8,529.9 C51.7,533.0 52.3,535.8 53.4,539.1 C54.5,542.5 56.2,546.7 57.5,550.0 C58.8,553.3 59.7,556.0 61.3,558.8 C62.9,561.6 65.4,564.9 67.0,567.0 C68.6,569.1 68.8,570.0 71.0,571.5 C73.2,573.0 77.1,574.5 80.2,576.1 C83.3,577.8 86.8,579.9 89.4,581.4 C92.0,582.9 93.8,584.3 96.0,585.3 C98.2,586.3 100.4,587.3 102.6,587.3 C104.8,587.3 106.9,586.6 109.1,585.3 C111.3,584.0 113.5,582.1 115.7,579.4 C117.9,576.7 120.1,572.6 122.3,568.9 C124.5,565.2 126.6,560.8 128.8,557.1 C131.0,553.4 133.6,549.4 135.4,546.6 C137.2,543.8 137.4,543.5 139.7,540.4 C141.9,537.3 145.8,532.3 148.9,528.0 C152.0,523.7 155.2,518.8 158.1,514.8 C160.9,510.7 163.8,506.6 166.0,503.7 C168.2,500.8 169.2,498.4 171.2,497.1 C173.2,495.8 175.8,496.2 177.8,495.8 C179.8,495.4 180.0,494.9 183.1,494.7 C186.2,494.5 191.2,494.7 196.2,494.7 C201.2,494.7 208.1,494.6 213.1,494.7 C218.1,494.8 221.9,495.1 226.3,495.5 C230.7,495.9 235.0,496.5 239.4,496.8 C243.8,497.1 248.2,496.9 252.6,497.1 C257.0,497.3 262.6,498.2 265.7,498.1 C268.8,498.0 269.2,497.0 271.0,496.4 C272.8,495.8 274.7,494.9 276.2,494.5 C277.7,494.1 279.5,494.2 280.2,494.2" stroke="#cc1a1a" stroke-width="1.45" fill="none" stroke-dasharray="5.2,3.5,1.5,3.5"/>
<path d="M42.2,493.8 C42.5,495.3 43.4,500.1 44.2,503.0 C45.0,505.9 45.7,509.0 46.8,511.5 C47.9,514.0 49.5,516.1 50.8,518.1 C52.1,520.1 53.2,522.0 54.7,523.4 C56.2,524.8 58.2,526.4 60.0,526.6 C61.8,526.8 63.5,526.1 65.2,524.7 C67.0,523.3 68.5,520.6 70.5,518.1 C72.5,515.6 75.0,511.9 77.0,509.6 C79.0,507.3 80.1,505.2 82.3,504.3 C84.5,503.4 87.6,504.6 90.2,504.3 C92.8,504.0 95.2,503.1 98.1,502.3 C100.9,501.5 104.2,500.7 107.3,499.7 C110.4,498.7 114.1,497.3 116.5,496.4 C118.9,495.5 118.9,494.5 121.7,494.5 C124.5,494.5 129.0,495.6 133.1,496.4 C137.2,497.2 141.9,499.0 146.3,499.1 C150.7,499.2 155.0,497.5 159.4,496.8 C163.8,496.1 168.7,495.5 172.6,495.1 C176.5,494.8 179.2,494.8 183.1,494.7 C187.0,494.6 191.2,494.7 196.2,494.7 C201.2,494.7 208.1,494.6 213.1,494.7 C218.1,494.8 221.9,495.1 226.3,495.5 C230.7,495.9 235.0,496.5 239.4,496.8 C243.8,497.1 248.2,496.9 252.6,497.1 C257.0,497.3 262.6,498.2 265.7,498.1 C268.8,498.0 269.2,497.0 271.0,496.4 C272.8,495.8 274.7,494.9 276.2,494.5 C277.7,494.1 279.5,494.2 280.2,494.2" stroke="#44145e" stroke-width="1.45" fill="none" stroke-dasharray="5.2,3.5,1.5,3.5"/>
<path d="M42.2,641.9 C43.4,642.0 46.5,642.7 49.5,642.3 C52.5,641.9 56.5,641.0 60.0,639.3 C63.5,637.6 66.6,635.3 70.5,632.0 C74.4,628.7 79.2,623.0 83.6,619.6 C88.0,616.2 92.6,614.5 96.8,611.7 C101.0,609.0 104.7,605.9 108.6,603.1 C112.5,600.3 116.8,596.9 120.0,594.8 C123.2,592.6 124.6,592.0 127.9,590.2 C131.2,588.5 135.8,586.1 139.7,584.3 C143.6,582.4 148.2,581.0 151.5,579.1 C154.8,577.2 156.8,575.0 159.4,573.1 C162.0,571.2 164.7,569.3 167.3,567.9 C169.9,566.5 172.6,565.6 175.2,564.6 C177.8,563.6 179.6,562.7 183.1,561.6 C186.6,560.5 191.7,559.2 196.2,558.2 C200.7,557.2 206.1,556.5 210.0,555.6 C213.9,554.7 214.8,553.9 219.7,552.9 C224.6,551.9 232.8,550.6 239.4,549.6 C246.0,548.6 254.3,547.6 259.1,547.0 C263.9,546.4 265.9,546.4 268.3,545.7 C270.7,545.1 271.9,543.7 273.6,543.1 C275.4,542.5 277.3,542.2 278.8,542.4 C280.3,542.6 282.1,544.1 282.8,544.4" stroke="#cc1a1a" stroke-width="1.7" fill="none" stroke-linejoin="round"/>
<path d="M42.9,652.8 C44.2,653.1 48.2,654.2 50.8,654.7 C53.4,655.2 55.6,655.8 58.7,655.7 C61.8,655.6 65.1,655.1 69.2,654.1 C73.3,653.1 78.8,651.1 83.6,649.8 C88.4,648.5 93.9,647.7 98.1,646.5 C102.3,645.3 105.5,643.9 108.6,642.6 C111.7,641.3 114.6,639.8 116.5,638.6 C118.4,637.4 118.1,637.5 120.0,635.6 C121.9,633.7 124.6,630.3 127.9,627.0 C131.2,623.7 135.6,619.4 139.7,615.8 C143.8,612.2 148.9,608.5 152.2,605.3 C155.5,602.1 156.7,599.8 159.4,596.8 C162.1,593.8 165.5,590.2 168.6,587.6 C171.7,585.0 174.5,583.1 177.8,581.0 C181.1,578.9 184.8,576.9 188.3,575.1 C191.8,573.4 195.2,571.8 198.8,570.5 C202.4,569.2 206.5,568.3 210.0,567.2 C213.5,566.1 214.8,565.5 219.7,564.1 C224.6,562.7 232.8,560.3 239.4,558.8 C246.0,557.3 254.3,555.9 259.1,554.9 C263.9,553.9 265.9,553.7 268.3,552.9 C270.7,552.1 271.9,550.9 273.6,550.3 C275.4,549.7 277.3,549.1 278.8,549.4 C280.3,549.7 282.1,551.6 282.8,552.0" stroke="#44145e" stroke-width="1.7" fill="none" stroke-linejoin="round"/>
<text transform="translate(218.4,589.3) scale(0.1,0.11)" class="lg">Region5</text>
<text transform="translate(218.4,609.4) scale(0.1,0.11)" class="lg">Background 5</text>
<text transform="translate(218.4,629.6) scale(0.1,0.11)" class="lg">Renf Region5</text>
<text transform="translate(218.4,649.7) scale(0.1,0.11)" class="lg">Renf Background5</text>
<text transform="translate(195.0,486.1) scale(0.1,0.1)" class="nm">750nm</text>
<text transform="translate(30.8,653.7) scale(0.1,0.1)" class="lab">(e)</text>
<text transform="translate(44.7,618.4) rotate(-90) scale(0.1,0.1)" class="refl">Reflectance</text>
<text transform="translate(325.4,657.4) rotate(-90) scale(0.1,0.1)" class="refl2">Removed enveloped reflectance</text>
</g>
<g id="pf">
<path d="M379.9,467.6H642.6" stroke="#555" stroke-width="1.1" fill="none"/>
<path d="M379.9,467.6V658.5" stroke="#8c8c8c" stroke-width="1.6" fill="none"/>
<path d="M376.9,655.5H642.6" stroke="#333" stroke-width="1.2" fill="none"/>
<path d="M642.6,467.6V658.5" stroke="#333" stroke-width="1.2" fill="none"/>
<path d="M376.7,655.5h6.4M376.7,636.7h6.4M376.7,617.9h6.4M376.7,599.1h6.4M376.7,580.3h6.4M376.7,561.5h6.4M376.7,542.8h6.4M376.7,524.0h6.4M376.7,505.2h6.4M376.7,486.4h6.4M376.7,467.6h6.4" stroke="#333" stroke-width="1" fill="none"/>
<text transform="translate(370.1,659.0) scale(0.1,0.113)" class="tl">0.1</text>
<text transform="translate(370.1,621.4) scale(0.1,0.113)" class="tl">0.3</text>
<text transform="translate(370.1,583.8) scale(0.1,0.113)" class="tl">0.5</text>
<text transform="translate(370.1,546.3) scale(0.1,0.113)" class="tl">0.7</text>
<text transform="translate(370.1,508.7) scale(0.1,0.113)" class="tl">0.9</text>
<text transform="translate(370.1,471.1) scale(0.1,0.113)" class="tl">1.1</text>
<text transform="translate(652.0,659.0) scale(0.1,0.113)" class="tr">0.4</text>
<text transform="translate(652.0,632.2) scale(0.1,0.113)" class="tr">0.5</text>
<text transform="translate(652.0,605.3) scale(0.1,0.113)" class="tr">0.6</text>
<text transform="translate(652.0,578.5) scale(0.1,0.113)" class="tr">0.7</text>
<text transform="translate(652.0,551.6) scale(0.1,0.113)" class="tr">0.8</text>
<text transform="translate(652.0,524.8) scale(0.1,0.113)" class="tr">0.9</text>
<text transform="translate(652.0,497.9) scale(0.1,0.113)" class="tr">1</text>
<text transform="translate(652.0,471.1) scale(0.1,0.113)" class="tr">1.1</text>
<path d="M639.4,655.5h6.4M639.4,628.7h6.4M639.4,601.8h6.4M639.4,575.0h6.4M639.4,548.1h6.4M639.4,521.3h6.4M639.4,494.4h6.4M639.4,467.6h6.4" stroke="#333" stroke-width="1" fill="none"/>
<path d="M379.9,652.1v6.8M401.8,653.0v5M423.7,652.1v6.8M445.6,653.0v5M467.5,652.1v6.8M489.4,653.0v5M511.2,652.1v6.8M533.1,653.0v5M555.0,652.1v6.8M576.9,653.0v5M598.8,652.1v6.8M620.7,653.0v5M642.6,652.1v6.8" stroke="#333" stroke-width="1" fill="none"/>
<text transform="translate(379.9,672.8) scale(0.1,0.113)" class="tx">400</text>
<text transform="translate(423.7,672.8) scale(0.1,0.113)" class="tx">500</text>
<text transform="translate(467.5,672.8) scale(0.1,0.113)" class="tx">600</text>
<text transform="translate(511.2,672.8) scale(0.1,0.113)" class="tx">700</text>
<text transform="translate(555.0,672.8) scale(0.1,0.113)" class="tx">800</text>
<text transform="translate(598.8,672.8) scale(0.1,0.113)" class="tx">900</text>
<text transform="translate(642.6,672.8) scale(0.1,0.113)" class="tx">1000</text>
<text transform="translate(647.6,687.4) scale(0.1,0.1)" class="xl">Wavelength/nm</text>
<path d="M518.6,582.0H551.9" stroke="#44145e" stroke-width="1.5"/>
<path d="M518.6,602.4H551.9" stroke="#cc1a1a" stroke-width="2.2"/>
<path d="M518.6,623.2H551.9" stroke="#cc1a1a" stroke-width="1.8" stroke-dasharray="5.2,3.5,1.5,3.5"/>
<path d="M518.6,643.3H551.9" stroke="#44145e" stroke-width="1.8" stroke-dasharray="5.2,3.5,1.5,3.5"/>
<path d="M558.4,474.2V658.5" stroke="#287628" stroke-width="1.9"/>
<path d="M553.2,482.7L558.4,474.2L563.6,482.7" stroke="#287628" stroke-width="2.3" fill="none"/>
<path d="M553.2,650.0L558.4,658.5L563.6,650.0" stroke="#287628" stroke-width="2.3" fill="none"/>
<path d="M390.9,493.8 C391.1,495.4 391.8,500.8 392.2,503.7 C392.6,506.6 393.1,508.4 393.5,511.5 C393.9,514.5 394.3,518.0 394.9,522.0 C395.4,526.0 396.0,530.9 396.8,535.2 C397.6,539.5 398.6,543.9 399.5,548.0 C400.4,552.1 401.2,555.6 402.1,559.7 C403.0,563.9 403.6,568.7 404.7,572.9 C405.8,577.1 406.9,581.3 408.7,584.7 C410.4,588.1 412.6,590.9 415.2,593.2 C417.8,595.5 421.1,597.6 424.4,598.5 C427.7,599.4 431.6,598.8 434.9,598.5 C438.2,598.2 441.5,597.6 444.1,596.5 C446.7,595.4 448.7,594.3 450.7,591.9 C452.7,589.5 454.2,585.0 456.0,582.0 C457.8,579.0 459.4,576.9 461.2,574.0 C462.9,571.1 464.8,568.0 466.5,564.5 C468.2,561.0 469.7,557.3 471.6,553.0 C473.5,548.7 475.9,542.8 478.1,538.5 C480.3,534.2 482.5,530.8 484.7,527.0 C486.9,523.2 489.1,518.7 491.3,515.5 C493.5,512.3 495.7,509.9 497.9,507.6 C500.1,505.3 502.0,503.6 504.4,501.7 C506.8,499.8 510.3,497.6 512.3,496.4 C514.3,495.1 514.0,494.4 516.2,494.2 C518.4,494.0 522.1,494.9 525.4,495.1 C528.7,495.3 532.9,495.6 536.0,495.5 C539.1,495.4 540.6,494.3 543.8,494.2 C547.0,494.1 551.8,494.7 555.0,494.7 C558.2,494.7 559.6,494.1 563.1,494.2 C566.6,494.3 571.9,494.6 576.3,495.1 C580.7,495.6 585.0,496.7 589.4,497.1 C593.8,497.5 598.2,497.4 602.6,497.7 C607.0,498.0 613.0,498.8 615.7,499.1 C618.4,499.4 617.7,500.4 619.0,499.7 C620.3,499.0 621.5,496.0 623.6,495.1 C625.7,494.2 630.2,494.4 631.5,494.2" stroke="#cc1a1a" stroke-width="1.45" fill="none" stroke-dasharray="5.2,3.5,1.5,3.5"/>
<path d="M390.9,493.8 C391.1,495.4 391.8,500.8 392.2,503.7 C392.6,506.6 393.1,508.4 393.5,511.5 C393.9,514.5 394.3,518.0 394.9,522.0 C395.4,526.0 396.1,531.2 396.8,535.2 C397.5,539.2 398.1,543.2 398.8,545.7 C399.5,548.2 400.2,548.5 400.8,550.5 C401.4,552.5 401.5,555.3 402.1,557.5 C402.8,559.7 403.6,561.4 404.7,563.7 C405.8,566.0 406.9,569.4 408.7,571.5 C410.4,573.6 413.0,575.4 415.2,576.1 C417.4,576.8 419.6,576.5 421.8,575.5 C424.0,574.5 426.0,572.5 428.4,570.2 C430.8,567.9 433.8,564.3 436.2,561.7 C438.6,559.1 440.6,557.1 442.8,554.5 C445.0,551.9 447.8,548.9 449.4,545.9 C451.0,542.9 451.5,540.2 452.7,536.5 C453.9,532.8 455.3,527.8 456.6,523.4 C457.9,519.0 459.2,514.1 460.6,510.2 C462.0,506.2 463.4,502.3 465.2,499.7 C467.0,497.1 469.5,495.4 471.7,494.5 C473.9,493.6 474.8,494.2 478.1,494.2 C481.4,494.1 486.9,494.1 491.3,494.2 C495.7,494.2 500.5,494.5 504.4,494.5 C508.3,494.5 511.4,494.1 514.9,494.2 C518.4,494.3 521.9,494.9 525.4,495.1 C528.9,495.3 532.9,495.6 536.0,495.5 C539.1,495.4 540.6,494.3 543.8,494.2 C547.0,494.1 551.8,494.7 555.0,494.7 C558.2,494.7 559.6,494.1 563.1,494.2 C566.6,494.3 571.9,494.6 576.3,495.1 C580.7,495.6 585.0,496.7 589.4,497.1 C593.8,497.5 598.2,497.4 602.6,497.7 C607.0,498.0 613.0,498.8 615.7,499.1 C618.4,499.4 617.7,500.4 619.0,499.7 C620.3,499.0 621.5,496.0 623.6,495.1 C625.7,494.2 630.2,494.4 631.5,494.2" stroke="#44145e" stroke-width="1.45" fill="none" stroke-dasharray="5.2,3.5,1.5,3.5"/>
<path d="M390.9,630.5 C391.9,630.9 394.3,632.2 396.8,632.9 C399.3,633.5 402.7,634.5 406.0,634.4 C409.3,634.3 413.4,633.3 416.5,632.2 C419.6,631.1 421.8,630.0 424.4,627.9 C427.0,625.8 429.4,622.3 432.3,619.7 C435.2,617.1 438.6,614.9 441.5,612.5 C444.4,610.1 447.4,607.4 449.4,605.3 C451.4,603.2 451.8,602.6 453.3,600.0 C454.8,597.4 456.4,593.5 458.6,589.9 C460.8,586.2 464.6,580.9 466.5,578.1 C468.4,575.3 468.4,574.7 470.3,573.1 C472.2,571.5 475.3,569.9 478.1,568.5 C480.9,567.1 484.2,566.0 487.3,564.6 C490.4,563.2 493.6,561.5 496.5,560.0 C499.4,558.5 500.9,557.3 504.4,555.6 C507.9,553.9 513.2,551.2 517.6,549.6 C522.0,548.0 526.3,546.8 530.7,545.7 C535.1,544.6 540.6,543.7 543.8,543.1 C547.0,542.5 546.8,543.0 550.0,542.4 C553.2,541.8 557.6,540.7 563.1,539.8 C568.6,538.9 576.3,538.2 582.9,537.2 C589.5,536.2 596.9,534.8 602.6,534.1 C608.3,533.4 613.7,533.8 617.0,533.2 C620.3,532.6 620.5,531.2 622.3,530.6 C624.0,530.0 625.9,529.3 627.5,529.3 C629.1,529.3 631.3,530.4 632.1,530.6" stroke="#cc1a1a" stroke-width="1.7" fill="none" stroke-linejoin="round"/>
<path d="M390.9,638.8 C392.1,639.3 395.4,641.1 398.1,642.0 C400.8,642.9 404.0,644.3 407.3,644.4 C410.6,644.5 413.9,643.8 417.9,642.7 C421.8,641.7 427.1,639.4 431.0,638.1 C434.9,636.8 438.4,636.0 441.5,634.8 C444.6,633.6 446.5,632.9 449.4,630.9 C452.2,628.9 456.0,625.1 458.6,623.0 C461.2,620.9 461.8,621.7 465.0,618.5 C468.2,615.3 473.7,608.5 478.1,604.0 C482.5,599.5 486.9,595.6 491.3,591.5 C495.7,587.4 500.2,582.9 504.4,579.1 C508.5,575.3 512.7,571.1 516.2,568.5 C519.7,565.9 521.7,565.8 525.4,563.7 C529.1,561.7 534.5,557.9 538.6,556.2 C542.7,554.5 545.9,554.7 550.0,553.6 C554.1,552.5 557.6,550.8 563.1,549.6 C568.6,548.4 576.3,547.6 582.9,546.4 C589.5,545.2 596.9,543.2 602.6,542.4 C608.3,541.6 613.7,542.4 617.0,541.8 C620.3,541.1 620.5,539.3 622.3,538.5 C624.0,537.7 625.9,537.2 627.5,537.2 C629.1,537.2 631.3,538.3 632.1,538.5" stroke="#44145e" stroke-width="1.7" fill="none" stroke-linejoin="round"/>
<text transform="translate(555.4,585.4) scale(0.1,0.11)" class="lg">Region6</text>
<text transform="translate(555.4,605.8) scale(0.1,0.11)" class="lg">Background6</text>
<text transform="translate(555.4,626.6) scale(0.1,0.11)" class="lg">Renf Region6</text>
<text transform="translate(555.4,646.7) scale(0.1,0.11)" class="lg">Renf Background 6</text>
<text transform="translate(565.8,485.7) scale(0.1,0.1)" class="nm">807nm</text>
<text transform="translate(385.7,652.5) scale(0.1,0.1)" class="labr">(f)</text>
<text transform="translate(400.5,617.5) rotate(-90) scale(0.1,0.1)" class="refl">Reflectance</text>
<text transform="translate(680.9,656.3) rotate(-90) scale(0.1,0.1)" class="refl2">Removed enveloped reflectance</text>
</g></g>
</svg></body></html>
